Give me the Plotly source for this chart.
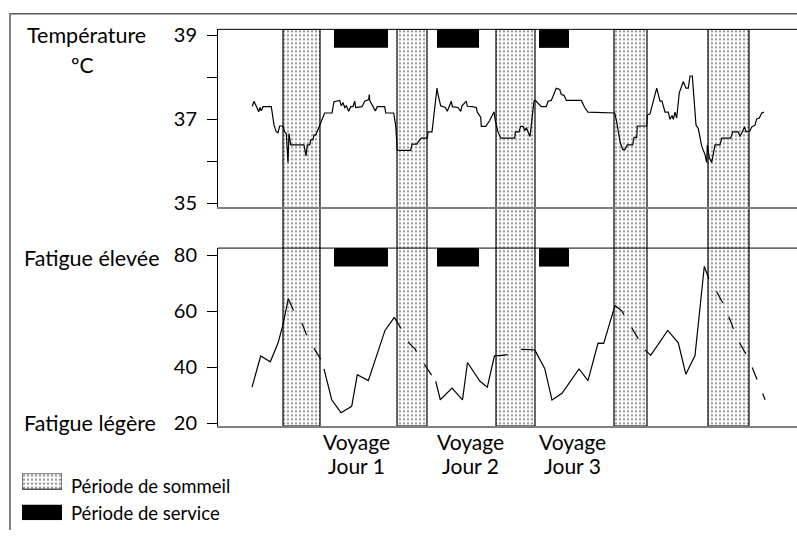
import plotly.graph_objects as go

# ---------------- data (time in hours from start of the record) ----------------
X_MAX = 115.8

sleep_start = [13.0, 35.8, 55.6, 79.2, 98.0]
sleep_end = [20.4, 41.8, 63.4, 85.8, 106.2]

service_start = [23.2, 43.8, 64.2]
service_end = [34.0, 52.2, 70.2]

temp_hours = [
    6.86, 7.2, 7.66, 8.14, 8.4, 8.66, 9.0, 10.66, 11.2, 11.66,
    12.0, 12.34, 13.0, 13.34, 13.66, 14.0, 14.2, 14.54, 17.2, 17.6,
    17.86, 18.34, 18.54, 19.0, 19.2, 19.54, 19.8, 20.2, 21.34, 22.8,
    23.2, 24.34, 24.66, 25.0, 25.34, 25.66, 26.14, 26.54, 27.0, 27.34,
    27.54, 28.8, 29.34, 30.14, 30.26, 30.34, 30.8, 31.46, 31.86, 33.34,
    33.54, 35.14, 35.54, 35.86, 38.54, 38.8, 39.8, 40.0, 40.66, 41.86,
    42.0, 42.8, 43.8, 44.0, 44.54, 45.46, 45.86, 46.34, 46.66, 46.86,
    48.0, 48.54, 48.8, 49.66, 49.86, 50.86, 51.66, 51.86, 52.54, 52.66,
    53.54, 54.34, 55.2, 55.46, 56.0, 56.54, 59.34, 59.46, 60.2, 60.54,
    61.0, 61.34, 61.66, 62.4, 62.66, 63.2, 63.46, 63.86, 64.66, 65.66,
    66.0, 66.66, 67.2, 67.66, 68.34, 68.66, 69.2, 69.66, 72.66, 73.34,
    74.0, 78.66, 79.34, 79.74, 80.4, 80.94, 81.4, 81.86, 82.94, 83.2,
    83.74, 83.86, 85.74, 85.86, 86.4, 87.74, 88.4, 88.8, 89.4, 90.06,
    90.4, 90.8, 91.06, 91.4, 91.74, 92.26, 93.06, 93.6, 94.06, 94.4,
    94.86, 95.6, 96.06, 96.74, 97.4, 97.74, 97.86, 98.26, 98.74, 99.4,
    100.4, 100.74, 102.54, 102.94, 104.06, 104.4, 104.8, 105.34, 105.6, 106.4,
    106.74, 107.4, 107.74, 108.26, 108.74, 109.2,
]
temp_values = [
    37.31, 37.43, 37.31, 37.18, 37.28, 37.20, 37.30, 37.30, 36.86, 36.70,
    36.68, 36.84, 36.84, 36.70, 36.66, 35.97, 36.66, 36.39, 36.39, 36.13,
    36.39, 36.39, 36.51, 36.51, 36.63, 36.63, 36.70, 36.82, 37.15, 37.15,
    37.42, 37.45, 37.32, 37.40, 37.28, 37.32, 37.19, 37.30, 37.30, 37.43,
    37.28, 37.30, 37.43, 37.47, 37.59, 37.45, 37.36, 37.20, 37.30, 37.30,
    37.15, 37.15, 36.85, 36.26, 36.26, 36.41, 36.41, 36.46, 36.55, 36.55,
    36.70, 36.70, 37.74, 37.59, 37.32, 37.28, 37.19, 37.32, 37.43, 37.30,
    37.28, 37.19, 37.32, 37.43, 37.31, 37.30, 37.28, 37.17, 37.05, 36.83,
    36.83, 36.97, 37.18, 36.97, 36.70, 36.55, 36.55, 36.70, 36.70, 36.83,
    36.83, 36.73, 36.80, 36.59, 36.90, 37.43, 37.45, 37.40, 37.30, 37.30,
    37.43, 37.45, 37.59, 37.74, 37.71, 37.59, 37.57, 37.45, 37.45, 37.28,
    37.17, 37.15, 37.15, 36.94, 36.47, 36.28, 36.28, 36.39, 36.39, 36.57,
    36.57, 36.84, 36.84, 37.10, 37.13, 37.74, 37.43, 37.43, 37.17, 37.17,
    37.00, 37.09, 37.00, 37.17, 37.03, 37.63, 37.90, 37.74, 37.74, 38.03,
    38.03, 36.86, 36.78, 36.36, 36.16, 35.97, 36.39, 36.09, 35.97, 36.39,
    36.39, 36.55, 36.55, 36.70, 36.70, 36.59, 36.70, 36.82, 36.70, 36.72,
    36.82, 36.86, 37.01, 37.03, 37.15, 37.17,
]

# fatigue while awake (solid line), None separates the awake stretches
fatigue_awake_hours = [
    6.8, 8.54, 10.46, 12.0, 13.0, 14.06, None,
    21.2, 22.74, 24.6, 26.74, 27.86, 30.06, 31.74, 33.4, 35.26, None,
    43.54, 44.46, 46.8, 48.9, 49.9, 52.36, 53.86, 55.3, None,
    63.34, 65.34, 66.8, 68.8, 72.2, 74.0, 76.0, 77.14, 79.4, None,
    85.4, 86.54, 89.94, 92.06, 93.56, 95.4, 97.26,
]
fatigue_awake_values = [
    32.87, 44.0, 41.91, 48.63, 55.23, 64.52, None,
    39.37, 28.35, 23.72, 26.02, 37.29, 35.20, 44.24, 53.15, 57.81, None,
    34.96, 28.35, 32.52, 28.28, 41.67, 35.06, 32.87, 44.14, None,
    46.19, 39.58, 28.24, 30.68, 39.37, 35.20, 48.63, 48.52, 62.09, None,
    46.19, 44.24, 53.15, 48.70, 37.50, 44.14, 76.0,
]
# fatigue around the sleep periods (dashed line)
fatigue_sleep_hours = [
    14.06, 15.06, 16.86, 17.86, 19.4, 20.86, 21.2, None,
    35.26, 36.74, 38.26, 39.4, 41.06, 42.54, 43.54, None,
    55.3, 56.4, 58.54, 60.04, 61.74, 63.34, None,
    79.4, 80.74, 82.3, 83.8, 85.4, None,
    97.26, 98.2, 99.74, 101.14, 102.74, 103.6, 105.1, 106.3, 107.94, 109.44,
]
fatigue_sleep_values = [
    64.52, 60.45, 55.48, 50.85, 46.19, 41.91, 39.37, None,
    57.81, 53.50, 48.52, 46.54, 41.57, 37.63, 34.96, None,
    44.14, 44.17, 44.59, 46.37, 46.33, 46.19, None,
    62.09, 60.17, 55.37, 50.96, 46.19, None,
    76.0, 71.62, 66.96, 62.33, 55.48, 50.96, 46.26, 42.37, 34.96, 28.35,
]

temp_ticks = [35, 36, 37, 38, 39]
temp_ticklabels = ["35", "", "37", "", "39"]
fatigue_ticks = [20, 40, 60, 80]
fatigue_ticklabels = ["20", "40", "60", "80"]

voyage_labels = ["Jour 1", "Jour 2", "Jour 3"]
legend_labels = ["Période de sommeil", "Période de service"]

# ---------------- figure ----------------
W, H = 797, 538
FONT = "Lato, 'Open Sans', sans-serif"
X_DOM = [218 / W, 1.0]
TOP_DOM = [(H - 206) / H, (H - 23) / H]
BOT_DOM = [(H - 431) / H, (H - 248) / H]
BAND_DOM = [BOT_DOM[0], TOP_DOM[1]]

pattern = dict(shape=".", fgcolor="#3a3a3a", bgcolor="white", size=4, solidity=0.3)

fig = go.Figure()

# sleep bands spanning both panels
mids = [(s + e) / 2 for s, e in zip(sleep_start, sleep_end)]
widths = [e - s for s, e in zip(sleep_start, sleep_end)]
fig.add_trace(go.Bar(
    x=mids, y=[1] * len(mids), width=widths, base=0,
    xaxis="x", yaxis="y",
    marker=dict(color="white", line=dict(color="black", width=1.2), pattern=pattern),
    hoverinfo="skip", showlegend=False,
))

fig.add_trace(go.Scatter(
    x=temp_hours, y=temp_values, mode="lines", xaxis="x2", yaxis="y2",
    line=dict(color="black", width=1.2), showlegend=False,
))
fig.add_trace(go.Scatter(
    x=fatigue_awake_hours, y=fatigue_awake_values, mode="lines", xaxis="x3", yaxis="y3",
    line=dict(color="black", width=1.2), connectgaps=False, showlegend=False,
))
fig.add_trace(go.Scatter(
    x=fatigue_sleep_hours, y=fatigue_sleep_values, mode="lines", xaxis="x3", yaxis="y3",
    line=dict(color="black", width=1.2, dash="13px,15px"), connectgaps=False, showlegend=False,
))

# legend swatches
fig.add_trace(go.Bar(
    x=[1], y=[1], width=[0.5], base=0, orientation="h", xaxis="x4", yaxis="y4",
    marker=dict(color="white", line=dict(color="black", width=1), pattern=pattern),
    hoverinfo="skip", showlegend=False,
))
fig.add_trace(go.Bar(
    x=[1], y=[0], width=[0.5], base=0, orientation="h", xaxis="x4", yaxis="y4",
    marker=dict(color="black", line=dict(width=0)),
    hoverinfo="skip", showlegend=False,
))

shapes = []
for ax in ("2", "3"):
    shapes.append(dict(type="line", xref=f"x{ax} domain", yref=f"y{ax} domain",
                       x0=0, x1=1, y0=1, y1=1, line=dict(color="black", width=1)))
    for s, e in zip(service_start, service_end):
        shapes.append(dict(type="rect", xref=f"x{ax}", yref=f"y{ax} domain",
                           x0=s, x1=e, y0=0.896, y1=1.0,
                           fillcolor="black", line=dict(width=0)))
# outer frame (top and left edges)
fx = 10 / W
fy = (H - 7) / H
shapes.append(dict(type="path", xref="paper", yref="paper",
                   path=f"M {fx},0 L {fx},{fy} L 1,{fy}",
                   line=dict(color="#595959", width=1.5)))


def px(x):
    return x / W


def py(y):
    return (H - y) / H


annotations = [
    dict(text="Température", x=px(26), y=py(29), xanchor="left", yanchor="middle", font=dict(size=21.5)),
    dict(text="ºC", x=px(82), y=py(59), xanchor="center", yanchor="middle", font=dict(size=21)),
    dict(text="Fatigue élevée", x=px(23), y=py(258), xanchor="left", yanchor="middle", font=dict(size=21.5)),
    dict(text="Fatigue légère", x=px(23), y=py(428), xanchor="left", yanchor="middle", font=dict(size=21.5)),
]
for cx, lab in zip([356, 470, 572], voyage_labels):
    annotations.append(dict(text="Voyage", x=px(cx), y=py(447), xanchor="center", yanchor="middle", font=dict(size=21)))
    annotations.append(dict(text=lab, x=px(cx), y=py(472), xanchor="center", yanchor="middle", font=dict(size=21)))
for ly, lab in zip([493, 521], legend_labels):
    annotations.append(dict(text=lab, x=px(70), y=py(ly), xanchor="left", yanchor="middle", font=dict(size=18.5)))
for a in annotations:
    a.update(xref="paper", yref="paper", showarrow=False, borderpad=0)
    a["font"].update(family=FONT, color="black")

hidden_x = dict(showticklabels=False, ticks="", showgrid=False, zeroline=False,
                showline=True, linecolor="#7f7f7f", linewidth=2, mirror=False)
tickfont = dict(family=FONT, size=20, color="black")

fig.update_layout(
    width=W, height=H,
    margin=dict(l=0, r=0, t=0, b=0),
    paper_bgcolor="white", plot_bgcolor="rgba(0,0,0,0)",
    showlegend=False, barmode="overlay",
    font=dict(family=FONT, color="black"),
    xaxis=dict(domain=X_DOM, range=[0, X_MAX], anchor="y", visible=False),
    yaxis=dict(domain=BAND_DOM, range=[0, 1], anchor="x", visible=False),
    xaxis2=dict(domain=X_DOM, range=[0, X_MAX], anchor="y2", **hidden_x),
    yaxis2=dict(domain=TOP_DOM, range=[34.9075, 39.139], anchor="x2",
                showline=True, linecolor="black", linewidth=1,
                tickvals=temp_ticks, ticktext=temp_ticklabels, ticks="outside",
                ticklen=10, tickcolor="black", tickwidth=1, ticklabelstandoff=6,
                showgrid=False, zeroline=False, tickfont=tickfont),
    xaxis3=dict(domain=X_DOM, range=[0, X_MAX], anchor="y3", **hidden_x),
    yaxis3=dict(domain=BOT_DOM, range=[18.96, 82.61], anchor="x3",
                showline=True, linecolor="black", linewidth=1,
                tickvals=fatigue_ticks, ticktext=fatigue_ticklabels, ticks="outside",
                ticklen=10, tickcolor="black", tickwidth=1, ticklabelstandoff=6,
                showgrid=False, zeroline=False, tickfont=tickfont),
    xaxis4=dict(domain=[22 / W, 62 / W], range=[0, 1], anchor="y4", visible=False),
    yaxis4=dict(domain=[py(528), py(480)], range=[-0.25, 1.25], anchor="x4", visible=False),
    shapes=shapes,
    annotations=annotations,
)

fig.write_html("out.html")
